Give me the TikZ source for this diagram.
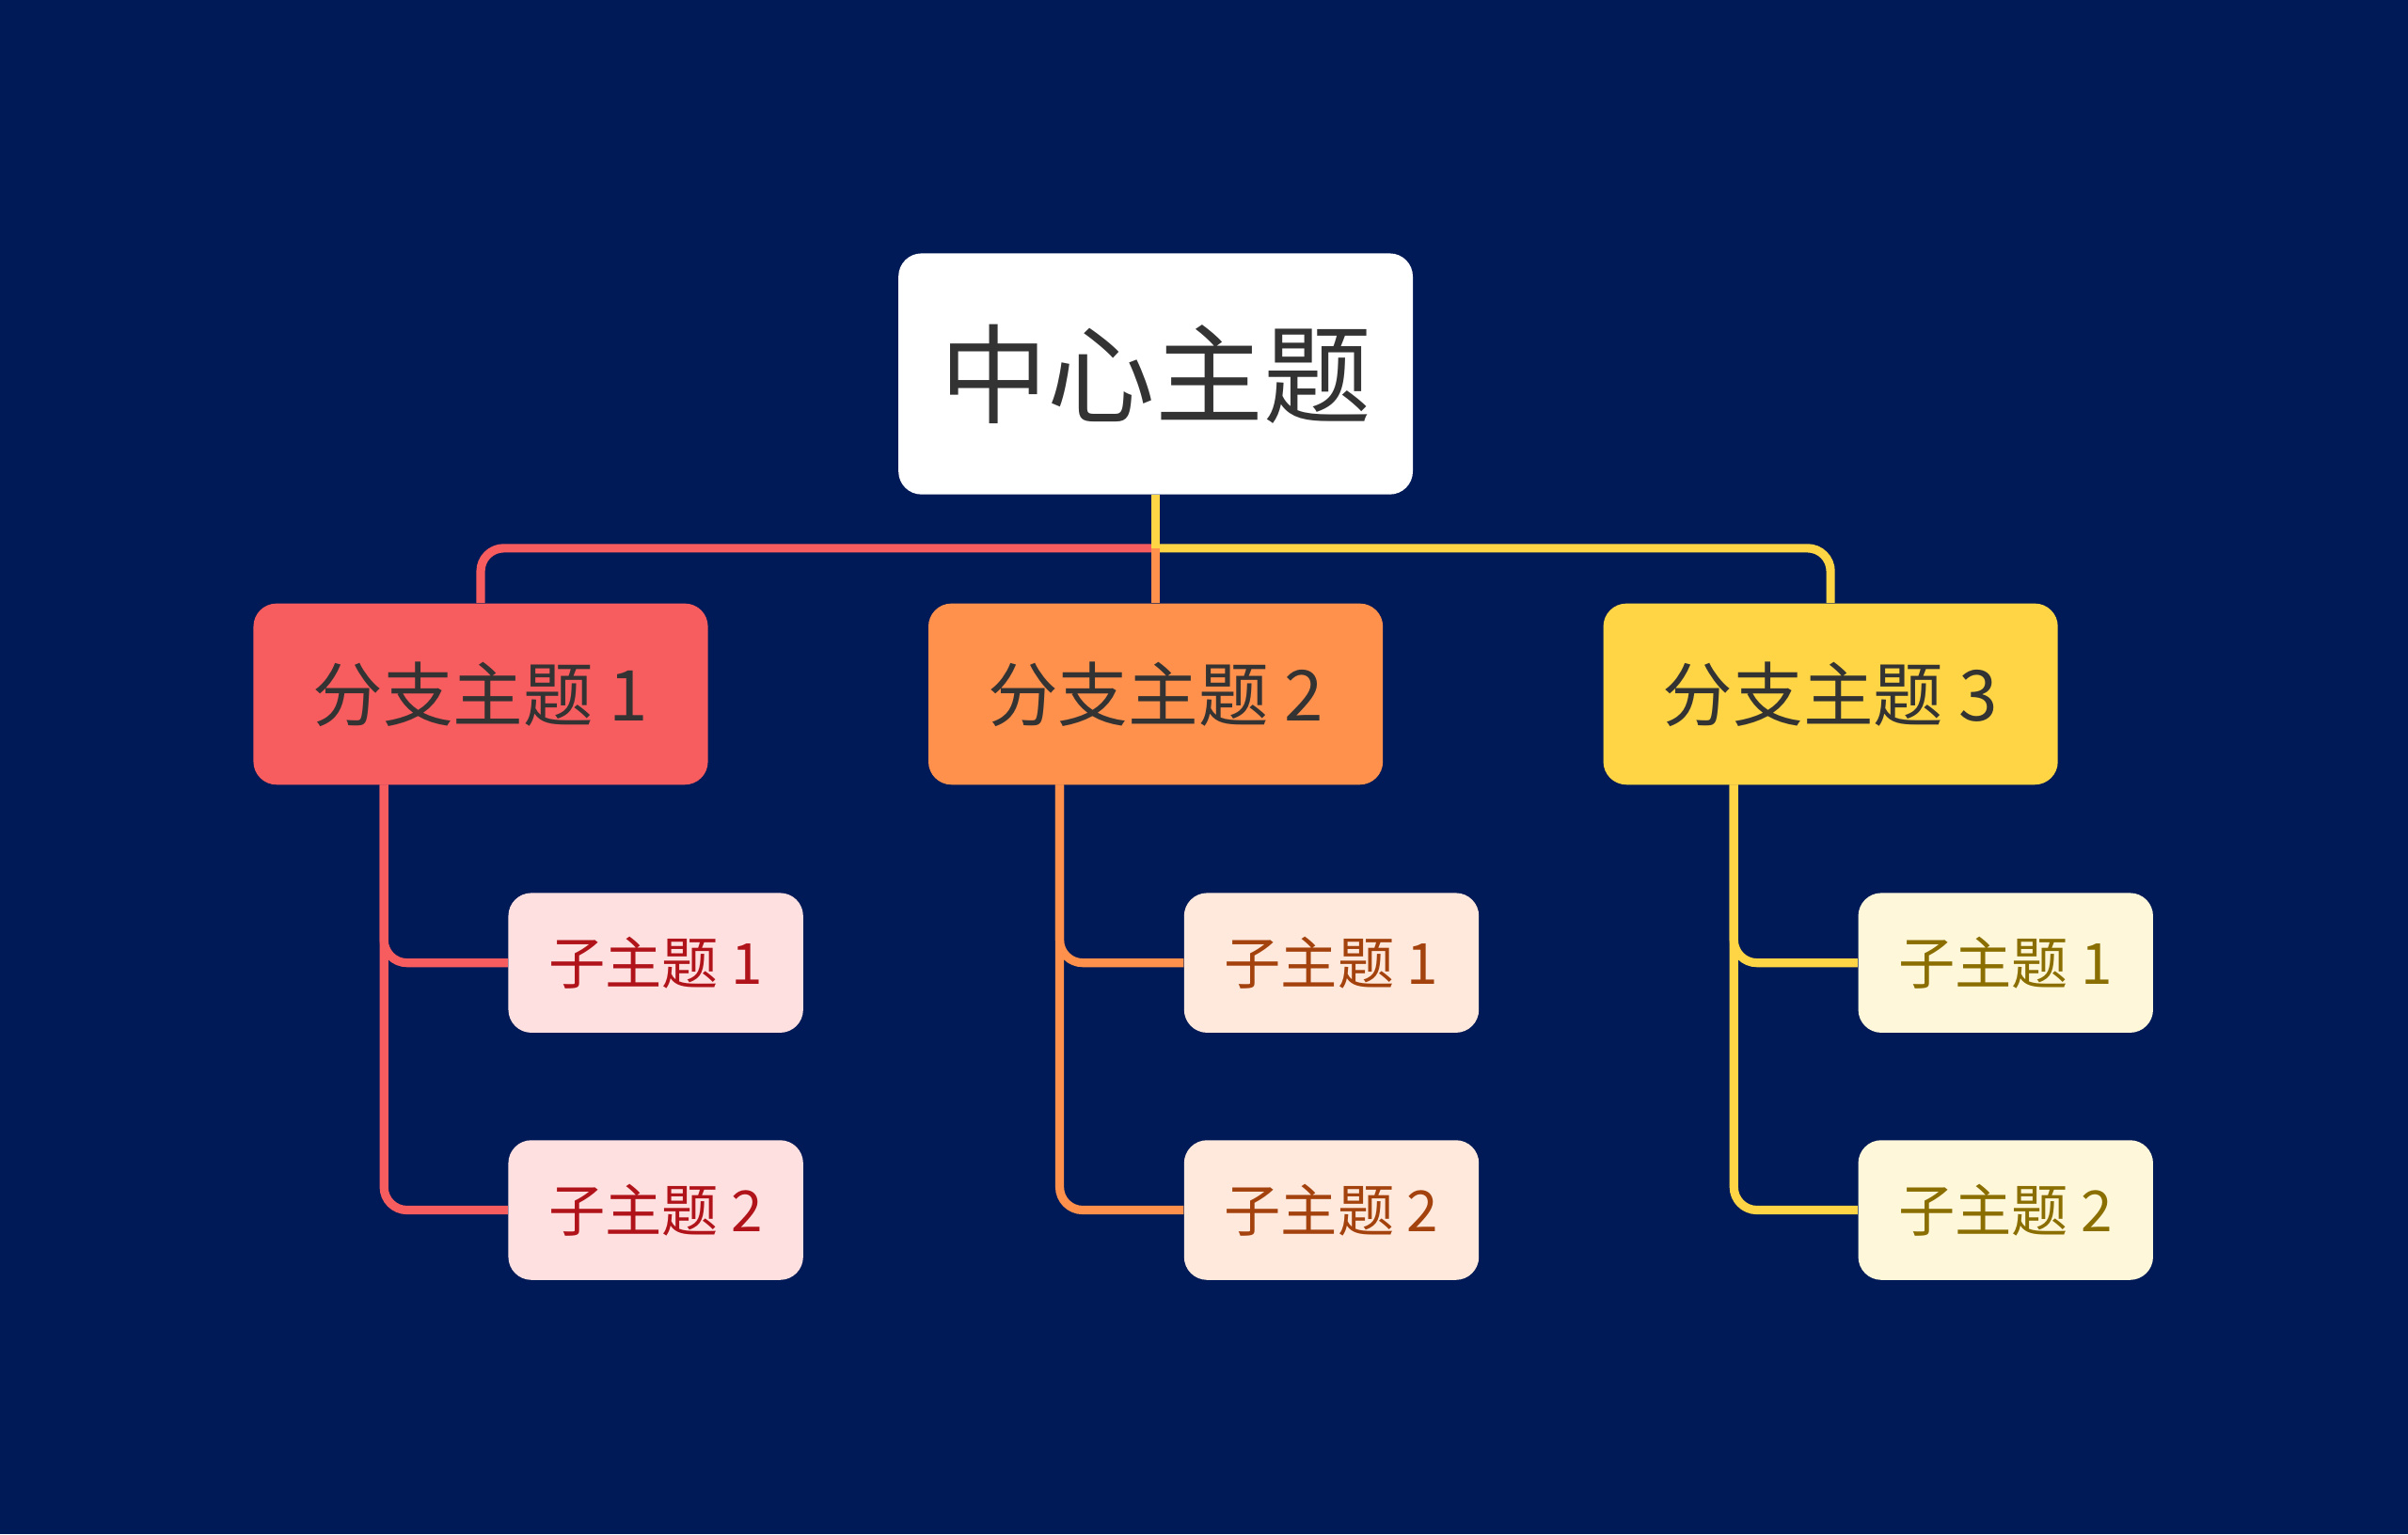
\documentclass[tikz,border=0pt]{standalone}
\usepackage{fontspec}
\setmainfont{Noto Sans CJK SC}
\usetikzlibrary{positioning}
\definecolor{bgblue}{HTML}{001A57}
\definecolor{redb}{HTML}{F75C5E}
\definecolor{orangeb}{HTML}{FF914D}
\definecolor{yellowb}{HTML}{FFD545}
\definecolor{redl}{HTML}{FFE0E0}
\definecolor{orangel}{HTML}{FFE9DC}
\definecolor{yellowl}{HTML}{FFF7DA}
\definecolor{redt}{HTML}{B0141A}
\definecolor{oranget}{HTML}{A4420E}
\definecolor{yellowt}{HTML}{8A6E00}
\definecolor{darkt}{HTML}{333333}
\begin{document}
\begin{tikzpicture}[x=0.02cm,y=-0.02cm,
  center node/.style={fill=white,rounded corners=0.3cm,minimum width=6.7cm,minimum height=3.14cm,font=\fontsize{40}{44}\selectfont,text=darkt},
  branch node/.style={rounded corners=0.3cm,minimum width=5.92cm,minimum height=2.36cm,font=\fontsize{26}{30}\selectfont,text=darkt},
  sub node/.style={rounded corners=0.3cm,minimum width=3.84cm,minimum height=1.82cm,font=\fontsize{21}{25}\selectfont},
  link/.style={line width=3.2pt,rounded corners=0.3cm}]
  \fill[bgblue] (0,0) rectangle (1568,999);
  \node[center node] (c) at (752.5,243.5) {中心主题};
  \node[branch node,fill=redb]    (b1) at (313,452) {分支主题 1};
  \node[branch node,fill=orangeb] (b2) at (752.5,452) {分支主题 2};
  \node[branch node,fill=yellowb] (b3) at (1192,452) {分支主题 3};
  \node[sub node,fill=redl,text=redt]          (s11) at (427,627) {子主题 1};
  \node[sub node,fill=redl,text=redt]          (s12) at (427,788) {子主题 2};
  \node[sub node,fill=orangel,text=oranget]    (s21) at (867,627) {子主题 1};
  \node[sub node,fill=orangel,text=oranget]    (s22) at (867,788) {子主题 2};
  \node[sub node,fill=yellowl,text=yellowt]    (s31) at (1306,627) {子主题 1};
  \node[sub node,fill=yellowl,text=yellowt]    (s32) at (1306,788) {子主题 2};
  \coordinate (j) at (752.5,357);
  % center to branches
  \draw[link,redb] (j) -- (313,357) -- (b1.north);
  \draw[link,yellowb] (j) -- (1192,357) -- (b3.north);
  \draw[line width=3.2pt,yellowb] (c.south) -- (j);
  \draw[line width=3.2pt,orangeb] (j) -- (b2.north);
  % branches to subtopics
  \draw[link,redb] (250,511) |- (s11.west);
  \draw[link,redb] (250,511) |- (s12.west);
  \draw[link,orangeb] (690,511) |- (s21.west);
  \draw[link,orangeb] (690,511) |- (s22.west);
  \draw[link,yellowb] (1129,511) |- (s31.west);
  \draw[link,yellowb] (1129,511) |- (s32.west);
\end{tikzpicture}
\end{document}
